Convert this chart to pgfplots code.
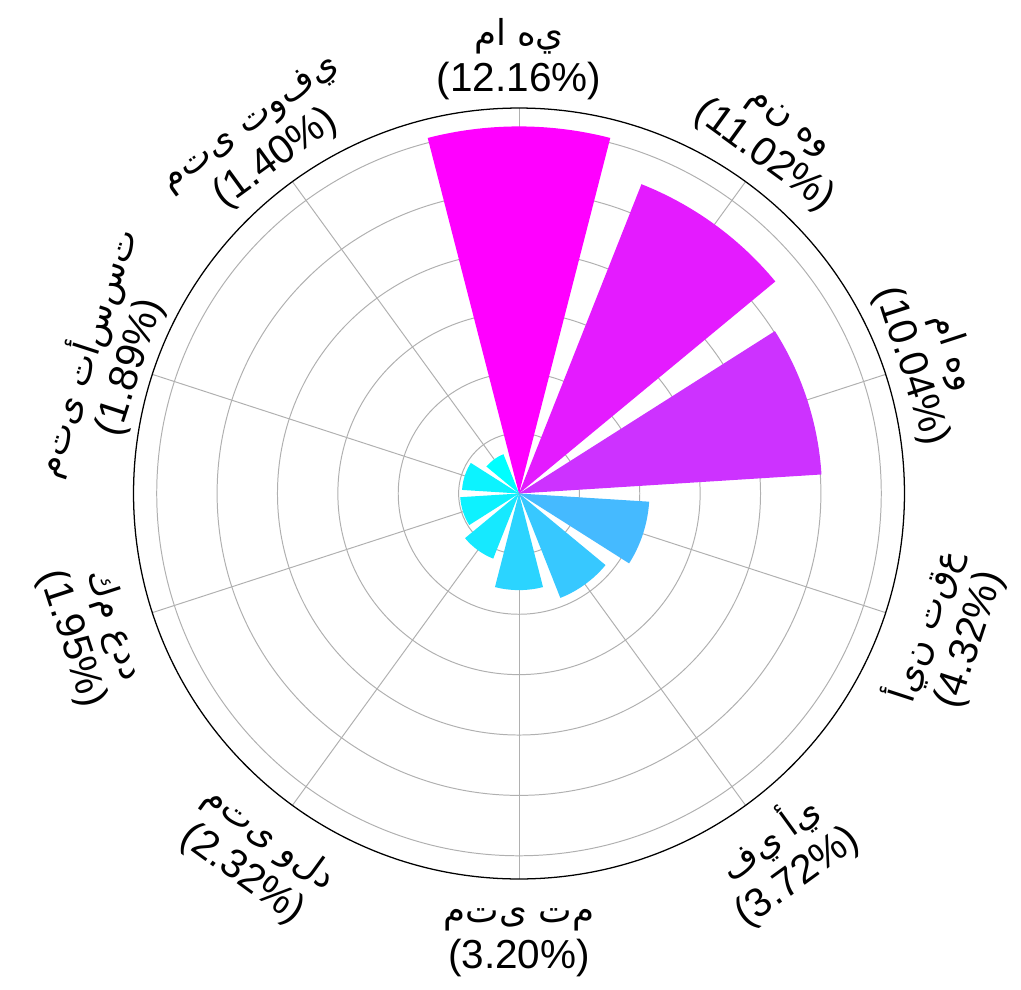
\documentclass[border=0pt]{standalone}
\usepackage{fontspec}
\setmainfont{Liberation Sans}
\newfontfamily\arab[Scale=0.88]{DejaVu Sans}
\usepackage{pgfplots}
\pgfplotsset{compat=1.18}
\newcommand\A[1]{\hbox{\arab #1}}
\definecolor{gridc}{RGB}{176,176,176}
\definecolor{b1}{RGB}{255,0,255}
\definecolor{b2}{RGB}{228,27,255}
\definecolor{b3}{RGB}{205,50,255}
\definecolor{b4}{RGB}{69,186,255}
\definecolor{b5}{RGB}{55,200,255}
\definecolor{b6}{RGB}{43,212,255}
\definecolor{b7}{RGB}{22,233,255}
\definecolor{b8}{RGB}{13,242,255}
\definecolor{b9}{RGB}{12,243,255}
\definecolor{b10}{RGB}{0,255,255}
\newcommand\fs{\fontsize{11.52}{13.09}\selectfont}
\begin{document}
\begin{tikzpicture}
\begin{axis}[x=0.3019cm, y=0.3019cm, xmin=-13, xmax=13, ymin=-13, ymax=13,
  hide axis, clip=false]
\coordinate (O) at (axis cs:0,0);
% grid circles and spokes
\pgfplotsinvokeforeach{2,4,6,8,10,12}{
  \draw[gridc, line width=0.28pt] (O) circle[radius={#1*0.3019cm}];
}
\pgfplotsinvokeforeach{18,54,90,126,162,198,234,270,306,342}{
  \draw[gridc, line width=0.28pt] (O) -- ++(#1:3.8547cm);
}
% bars (angle, value)
\addplot[fill=b1, draw=none, data cs=polar] coordinates {(75.6,12.16) (0,0) (104.4,12.16)} arc[start angle=104.4, end angle=75.6, radius={12.16*0.3019cm}] -- cycle;
\addplot[fill=b2, draw=none, data cs=polar] coordinates {(39.6,11.02) (0,0) (68.4,11.02)} arc[start angle=68.4, end angle=39.6, radius={11.02*0.3019cm}] -- cycle;
\addplot[fill=b3, draw=none, data cs=polar] coordinates {(3.6,10.04) (0,0) (32.4,10.04)} arc[start angle=32.4, end angle=3.6, radius={10.04*0.3019cm}] -- cycle;
\addplot[fill=b4, draw=none, data cs=polar] coordinates {(-32.4,4.32) (0,0) (-3.6,4.32)} arc[start angle=-3.6, end angle=-32.4, radius={4.32*0.3019cm}] -- cycle;
\addplot[fill=b5, draw=none, data cs=polar] coordinates {(-68.4,3.72) (0,0) (-39.6,3.72)} arc[start angle=-39.6, end angle=-68.4, radius={3.72*0.3019cm}] -- cycle;
\addplot[fill=b6, draw=none, data cs=polar] coordinates {(-104.4,3.20) (0,0) (-75.6,3.20)} arc[start angle=-75.6, end angle=-104.4, radius={3.20*0.3019cm}] -- cycle;
\addplot[fill=b7, draw=none, data cs=polar] coordinates {(-140.4,2.32) (0,0) (-111.6,2.32)} arc[start angle=-111.6, end angle=-140.4, radius={2.32*0.3019cm}] -- cycle;
\addplot[fill=b8, draw=none, data cs=polar] coordinates {(-176.4,1.95) (0,0) (-147.6,1.95)} arc[start angle=-147.6, end angle=-176.4, radius={1.95*0.3019cm}] -- cycle;
\addplot[fill=b9, draw=none, data cs=polar] coordinates {(147.6,1.89) (0,0) (176.4,1.89)} arc[start angle=176.4, end angle=147.6, radius={1.89*0.3019cm}] -- cycle;
\addplot[fill=b10, draw=none, data cs=polar] coordinates {(111.6,1.40) (0,0) (140.4,1.40)} arc[start angle=140.4, end angle=111.6, radius={1.40*0.3019cm}] -- cycle;
% outer circle
\draw[black, line width=0.36pt] (O) circle[radius=3.8547cm];
% labels
\tikzset{lab/.style={align=center, font=\fs, inner sep=0pt}}
\node[lab, rotate=0] at (axis cs:0,14.372) {\A{م}\A{ا}\ \A{ه}\A{ي}\\(12.16\%)};
\node[lab, rotate=-36] at (axis cs:8.447,11.627) {\A{م}\A{ن}\ \A{ه}\A{و}\\(11.02\%)};
\node[lab, rotate=-72] at (axis cs:13.668,4.441) {\A{م}\A{ا}\ \A{ه}\A{و}\\(10.04\%)};
\node[lab, rotate=72] at (axis cs:14.140,-4.595) {\A{أ}\A{ي}\A{ن}\ \A{ت}\A{ق}\A{ع}\\(4.32\%)};
\node[lab, rotate=36] at (axis cs:8.739,-12.029) {\A{ف}\A{ي}\ \A{أ}\A{ي}\\(3.72\%)};
\node[lab, rotate=0] at (axis cs:0,-14.868) {\A{م}\A{ت}\A{ى}\ \A{ت}\A{م}\\(3.20\%)};
\node[lab, rotate=-36] at (axis cs:-8.739,-12.029) {\A{م}\A{ت}\A{ى}\ \A{و}\A{ل}\A{د}\\(2.32\%)};
\node[lab, rotate=-72] at (axis cs:-14.140,-4.595) {\A{ك}\A{م}\ \A{ع}\A{د}\A{د}\\(1.95\%)};
\node[lab, rotate=72] at (axis cs:-13.668,4.441) {\A{م}\A{ت}\A{ى}\ \A{ت}\A{أ}\A{س}\A{س}\A{ت}\\(1.89\%)};
\node[lab, rotate=36] at (axis cs:-8.447,11.627) {\A{م}\A{ت}\A{ى}\ \A{ت}\A{و}\A{ف}\A{ي}\\(1.40\%)};
\end{axis}
\pgfresetboundingbox
\path ([shift={(-5.19cm,-4.955cm)}]O) rectangle ([shift={(5.02cm,4.935cm)}]O);
\end{tikzpicture}
\end{document}
